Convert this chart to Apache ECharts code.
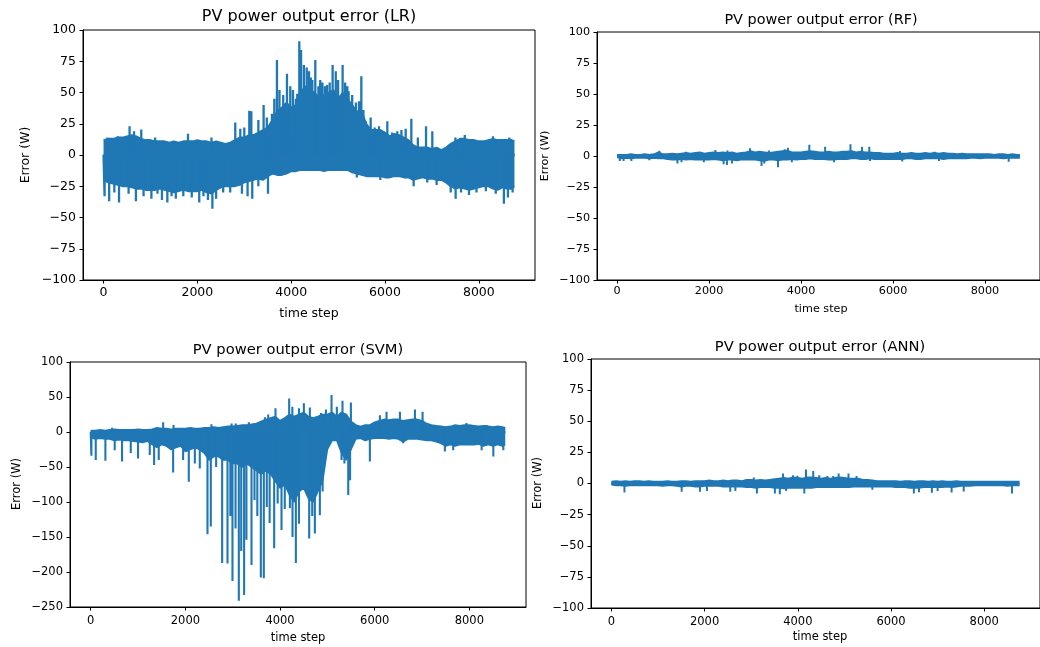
<!DOCTYPE html>
<html><head><meta charset="utf-8">
<script src="https://cdn.jsdelivr.net/npm/echarts@6/dist/echarts.min.js"></script>
<style>html,body{margin:0;padding:0;background:#fff}#c{width:1040px;height:647px}</style>
</head><body><div id="c"></div>
<script>
// ---- data ----
const STEP = 100, LAST_T = 8759;   // envelope samples every 100 time steps
const xTicks = [0, 2000, 4000, 6000, 8000];

// LR
const lrHigh = [12,13,13,14,14,15,16,15,13,
  12,12,11,11,11,10,11,10,11,11,11,
  12,11,11,10,11,10,9,10,12,14,
  14,16,16,18,20,22,28,35,38,42,
  38,40,50,55,52,50,45,48,50,52,
  45,50,45,40,35,35,25,20,20,20,
  18,15,17,16,14,12,8,6,6,6,
  5,6,4,6,9,11,13,13,12,12,
  11,11,12,13,12,12,12,12,11];
const lrLow = [-20,-22,-23,-24,-25,-25,-26,-27,-27,
  -28,-28,-28,-27,-28,-29,-30,-29,-28,-29,-29,
  -29,-28,-30,-31,-28,-26,-25,-25,-25,-24,
  -22,-21,-20,-19,-20,-17,-15,-16,-16,-15,
  -13,-13,-12,-12,-12,-12,-12,-13,-12,-12,
  -12,-12,-12,-14,-15,-16,-17,-17,-17,-17,
  -18,-18,-17,-17,-18,-18,-20,-19,-18,-19,
  -19,-20,-20,-22,-25,-27,-26,-27,-28,-27,
  -26,-25,-25,-27,-28,-26,-27,-27,-25];
const lrSpikesUp = [[80,14],[300,15],[555,23],[650,19],[804,20.5],[1100,14],[1800,17],[2300,14],[2808,26],[2915,21],[3000,22],[3107,35.5],[3150,35],[3300,28],[3412,40],[3480,30],[3590,33],[3640,45],[3696,76],[3750,52],[3830,48],[3910,65],[3980,55],[4038,52],[4100,45],[4130,49],[4173,91],[4210,84],[4270,72],[4330,70],[4380,67],[4420,62],[4450,60],[4514,76],[4580,55],[4620,60],[4665,58],[4720,55],[4763,56],[4820,58],[4883,72],[4950,67],[5000,60],[5096,72],[5150,58],[5197,55],[5224,51],[5300,48],[5380,42],[5446,43],[5495,63],[5540,36],[5588,27],[5694,30],[5780,22],[5872,23],[6049,27],[6150,18],[6262,19],[6350,20],[6440,21],[6561,29],[6700,14],[6874,23],[7008,19],[7500,14],[7700,16],[8302,15],[8650,14]];
const lrSpikesDown = [[22,-33],[120,-37],[230,-30],[330,-38],[534,-31],[690,-37],[853,-33],[1020,-35],[1150,-31],[1245,-36],[1360,-38],[1450,-33],[1540,-35],[1700,-33],[1880,-34],[2040,-38],[2130,-33],[2225,-36],[2320,-43],[2400,-35],[2550,-30],[2700,-30],[2950,-31],[3070,-33],[3170,-35],[3300,-25],[3505,-31],[5400,-18],[5900,-20],[6610,-25],[6900,-22],[7100,-24],[7400,-30],[7505,-35],[7620,-30],[7790,-32],[7950,-30],[8150,-29],[8360,-31],[8534,-39],[8620,-34],[8720,-30]];

// RF
const rfHigh = [1,1,1,1.5,1,1,1.5,1,1.5,
  3,1.5,1.5,2,1.5,2,2.5,2,2.5,3,2,
  2.5,3,2.5,3,2.5,3,2,2.5,3,4,
  3,3.5,3,2.5,3,3.5,4,4.5,3,3,
  3,3.5,4,3.5,3,3,3.5,3,3,3.5,
  3.5,4,3,3.5,3,3,2.5,2.5,2,2,
  2,2.5,2,2,2.5,2,2,2.5,2,2.5,
  2,2.5,2,2,1.5,2,1.5,1.5,1.5,1.5,
  1.5,1.5,1,1.5,1.5,1,1.5,1,1];
const rfLow = [-1,-2,-1.5,-2,-1.5,-1.5,-1.5,-2,-1.5,
  -2,-2,-2.5,-3,-3,-2.5,-3,-2.5,-3,-3,-3,
  -3,-2.5,-3,-3.5,-3,-3,-3.5,-3,-3,-3,
  -3,-3.5,-4,-3,-3,-3.5,-3,-3,-2.5,-3,
  -2.5,-2.5,-2,-2.5,-2.5,-2.5,-3,-3,-2.5,-2.5,
  -2.5,-2,-2,-2.5,-2.5,-2,-2.5,-2.5,-2.5,-2.5,
  -2.5,-2.5,-2.5,-2,-2,-2.5,-2.5,-2,-2,-2,
  -2,-2.5,-2,-2,-2,-2,-2,-1.5,-1.5,-2,
  -1.5,-1.5,-1.5,-1.5,-2,-1.5,-1.5,-1.5,-1.5];
const rfSpikesUp = [[918,4.3],[1500,3.5],[2137,4.8],[2400,4.5],[2890,6.2],[3300,4.5],[3643,5.5],[3714,6.7],[4180,9],[4524,7.5],[5075,9.4],[5327,7.5],[5484,7.5],[6150,4],[6900,3.5]];
const rfSpikesDown = [[58,-4],[140,-4],[310,-4],[700,-3.5],[1312,-6],[1400,-5],[1886,-5],[2316,-6.7],[2388,-7.2],[2500,-6],[3140,-8],[3200,-6],[3499,-9],[3800,-5],[4718,-5],[5500,-4],[6200,-4.5],[7000,-4],[8516,-4.6]];

// SVM
const svmHigh = [2,2,3,2,3,4,3,3,3,
  3,4,3,3,4,6,5,5,4,5,5,
  5,6,5,5,6,6,7,6,7,8,
  8,9,10,10,11,12,15,18,20,22,
  16,20,25,22,25,28,22,20,22,25,
  25,28,22,28,25,15,10,8,10,10,
  14,16,18,17,18,18,16,17,18,18,
  16,12,10,9,8,7,8,10,9,10,
  10,9,8,9,8,7,8,7,6];
const svmLow = [-8,-10,-9,-10,-10,-12,-11,-12,-12,
  -13,-14,-15,-13,-18,-22,-18,-20,-25,-22,-20,
  -28,-25,-22,-25,-30,-40,-35,-35,-40,-40,
  -45,-45,-50,-45,-50,-55,-60,-55,-60,-70,
  -80,-75,-90,-100,-85,-80,-95,-100,-85,-70,
  -25,-12,-12,-30,-40,-25,-10,-9,-12,-10,
  -9,-9,-9,-10,-9,-10,-14,-10,-10,-10,
  -11,-12,-12,-14,-16,-20,-18,-20,-18,-18,
  -18,-18,-17,-20,-18,-20,-18,-20,-18];
const svmSpikesUp = [[450,6],[1530,14],[1750,10],[2550,11],[2976,12],[3065,12],[3340,14],[3680,21],[3750,25],[3904,34],[4193,48],[4260,36],[4400,34],[4503,41],[4630,35],[4865,27],[4970,32],[5088,53],[5200,36],[5320,44.5],[5497,42],[6110,24],[6250,29],[6533,29],[6850,32],[7012,29],[7940,13],[8366,10]];
const svmSpikesDown = [[14,-34],[106,-40],[310,-41],[507,-26],[662,-42],[846,-30],[1000,-38],[1247,-33],[1339,-47],[1437,-40],[1741,-58],[1952,-40],[2072,-71],[2200,-45],[2304,-52],[2467,-146],[2537,-135],[2650,-50],[2777,-187],[2890,-188],[2950,-120],[2995,-213],[3060,-138],[3129,-241],[3180,-170],[3241,-233],[3290,-154],[3397,-190],[3460,-97],[3520,-120],[3594,-208],[3657,-209],[3720,-107],[3780,-130],[3876,-166],[3950,-102],[4031,-140],[4100,-110],[4208,-109],[4264,-150],[4334,-187],[4400,-131],[4616,-152],[4680,-120],[4736,-145],[4841,-119],[4900,-85],[5300,-40],[5360,-45],[5441,-90],[5480,-69],[5898,-42],[6603,-16],[7483,-28],[7659,-26],[8260,-26],[8507,-35],[8718,-26]];

// ANN
const annHigh = [1.5,2,1.5,2,1.5,2,2,1.5,2,
  1.5,1.5,1.5,2,1.5,1.5,2,2,1.5,2,2,
  2,2.5,2,2,2.5,2,2.5,2.5,2,3,
  3,2.5,3,2.5,3,3.5,4,4.5,4,5,
  4.5,4,5,5,4.5,4,4.5,4,4.5,5,
  4.5,4,4,4,3,3,2.5,2,2,2,
  2,2,1.5,2,2,1.5,2,2,1.5,2,
  1.5,2,1.5,1.5,2,1.5,1.5,1.5,1.5,1.5,
  1.5,1.5,1.5,1.5,1.5,1.5,1.5,1.5,1.5];
const annLow = [-1,-1.5,-1.5,-2,-1.5,-1.5,-1.5,-1.5,-1.5,
  -1.5,-1.5,-2,-1.5,-1.5,-2,-2.5,-2,-2,-2.5,-2.5,
  -2,-2,-2,-2,-2.5,-2.5,-2.5,-2.5,-2.5,-3,
  -3,-3.5,-3,-3,-3,-3.5,-3.5,-4,-3.5,-3.5,
  -3.5,-3.5,-3.5,-3.5,-3,-3,-3,-3,-3,-3,
  -3,-3,-2.5,-2.5,-2.5,-2.5,-2.5,-2.5,-2.5,-2.5,
  -2.5,-3,-3,-3,-3.5,-3.5,-3.5,-3,-3,-3,
  -3,-3,-2.5,-3,-2.5,-2,-2,-2,-1.5,-1.5,
  -1.5,-1.5,-1.5,-1.5,-1.5,-2,-1.5,-1.5,-1.5];
const annSpikesUp = [[3055,4.8],[3684,8],[3895,6.7],[3990,6.2],[4175,11.3],[4330,10],[4460,6.7],[4635,6],[4760,6],[4876,8],[5087,8],[5260,6]];
const annSpikesDown = [[280,-7.2],[1508,-6.7],[1900,-6.7],[2050,-6],[2550,-6.7],[2660,-6],[3122,-8],[3508,-8],[3614,-8.6],[3750,-6],[4140,-8],[5600,-5],[6490,-8],[6600,-7],[6877,-7.5],[7000,-6],[7300,-7.2],[7560,-6.5],[8597,-8]];

// ---- layout ----
const BLUE = '#1f77b4';
const FONT = '"DejaVu Sans", sans-serif';
const panels = [
  {title:'PV power output error (LR)', grid:{left:83,top:30,width:452,height:250}, yMin:-100,yMax:100,yInt:25,
   hi:lrHigh, lo:lrLow, up:lrSpikesUp, dn:lrSpikesDown, tick:12.5, tFont:16, lw:1.8, nw:2.3,
   tx:309,ty:17, yx:26,yy:155, xx:309,xy:314, lm:7, xm:6},
  {title:'PV power output error (RF)', grid:{left:597,top:32,width:448,height:248}, yMin:-100,yMax:100,yInt:25,
   hi:rfHigh, lo:rfLow, up:rfSpikesUp, dn:rfSpikesDown, tick:11.2, tFont:14.4, lw:1.6, nw:2,
   tx:821,ty:20, yx:545,yy:156, xx:821,xy:309, lm:7, xm:6},
  {title:'PV power output error (SVM)', grid:{left:70,top:362,width:456,height:245}, yMin:-250,yMax:100,yInt:50,
   hi:svmHigh, lo:svmLow, up:svmSpikesUp, dn:svmSpikesDown, tick:11.5, tFont:14.7, lw:1.6, nw:2.1,
   tx:298,ty:350, yx:17,yy:484, xx:298,xy:638, lm:7, xm:8},
  {title:'PV power output error (ANN)', grid:{left:591,top:359,width:458,height:249}, yMin:-100,yMax:100,yInt:25,
   hi:annHigh, lo:annLow, up:annSpikesUp, dn:annSpikesDown, tick:11.5, tFont:14.7, lw:1.6, nw:2,
   tx:820,ty:347, yx:538,yy:483, xx:820,xy:637, lm:7, xm:8}
];

const fmt = v => (v < 0 ? '\u2212' + Math.abs(v) : String(v));
const env = arr => arr.map((v, i) => [Math.min(i * STEP, LAST_T), v]);
const needles = arr => {
  const s = arr.slice().sort((a, b) => a[0] - b[0]);
  const out = [[0, 0]];
  s.forEach(([t, v]) => { out.push([t, 0], [t, v], [t, 0]); });
  out.push([LAST_T, 0]);
  return out;
};

const grids = [], xAxes = [], yAxes = [], series = [], graphics = [];
panels.forEach((p, k) => {
  grids.push(Object.assign({show:true, borderColor:'#000', borderWidth:1, backgroundColor:'transparent', containLabel:false}, p.grid));
  xAxes.push({type:'value', gridIndex:k, position:'bottom', min:-438, max:9197, splitLine:{show:false},
    axisLine:{show:true, onZero:false, lineStyle:{color:'#000', width:1}},
    axisTick:{show:true, inside:false, length:3.5, lineStyle:{color:'#000'}, customValues:xTicks},
    axisLabel:{color:'#000', fontFamily:FONT, fontSize:p.tick, margin:p.xm, customValues:xTicks, formatter:fmt}});
  yAxes.push({type:'value', gridIndex:k, position:'left', min:p.yMin, max:p.yMax, interval:p.yInt, splitLine:{show:false},
    axisLine:{show:true, onZero:false, lineStyle:{color:'#000', width:1}},
    axisTick:{show:true, inside:false, length:3.5, lineStyle:{color:'#000'}},
    axisLabel:{color:'#000', fontFamily:FONT, fontSize:p.tick, margin:p.lm, formatter:fmt}});
  const common = {type:'line', xAxisIndex:k, yAxisIndex:k, showSymbol:false, symbol:'none', animation:false,
    sampling:null, silent:true, clip:true, lineStyle:{color:BLUE, width:p.lw}, itemStyle:{color:BLUE}};
  series.push(Object.assign({}, common, {data:env(p.hi), areaStyle:{color:BLUE, opacity:1}}));
  series.push(Object.assign({}, common, {data:env(p.lo), areaStyle:{color:BLUE, opacity:1}}));
  series.push(Object.assign({}, common, {data:needles(p.up), lineStyle:{color:BLUE, width:p.nw, join:'bevel'}}));
  series.push(Object.assign({}, common, {data:needles(p.dn), lineStyle:{color:BLUE, width:p.nw, join:'bevel'}}));
  graphics.push({type:'text', x:p.tx, y:p.ty, style:{text:p.title, fill:'#000', font:`${p.tFont}px ${FONT}`, textAlign:'center', textVerticalAlign:'middle'}});
  graphics.push({type:'text', x:p.yx, y:p.yy, rotation:Math.PI/2, style:{text:'Error (W)', fill:'#000', font:`${p.tick}px ${FONT}`, textAlign:'center', textVerticalAlign:'middle'}});
  graphics.push({type:'text', x:p.xx, y:p.xy, style:{text:'time step', fill:'#000', font:`${p.tick}px ${FONT}`, textAlign:'center', textVerticalAlign:'middle'}});
});

const chart = echarts.init(document.getElementById('c'), null, {renderer:'canvas'});
chart.setOption({animation:false, backgroundColor:'#fff', grid:grids, xAxis:xAxes, yAxis:yAxes, series:series, graphic:graphics});
</script></body></html>
